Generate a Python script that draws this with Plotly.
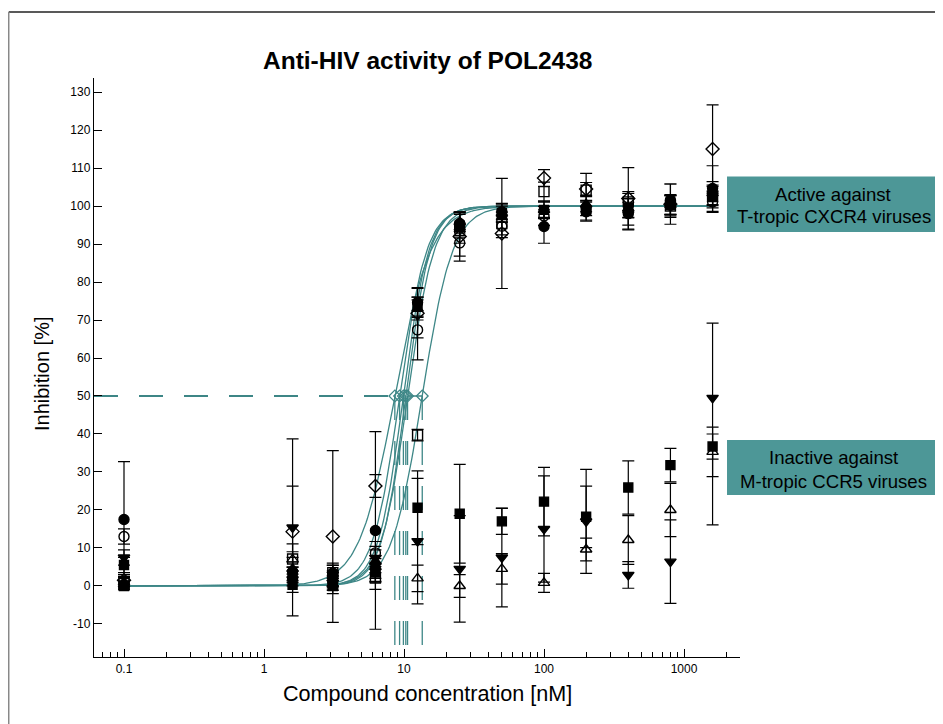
import numpy as np
import plotly.graph_objects as go

# ---------------- data ----------------
conc = [0.1, 1.6, 3.1, 6.25, 12.5, 25, 50, 100, 200, 400, 800, 1600]

# active (T-tropic CXCR4) strains
act_fcircle = [17.5, 3.8, 3.4, 14.6, 74.6, 95.4, 98.5, 94.6, 98.5, 98.0, 101.6, 104.6]
act_fcircle_err = [15.2, 2.5, 2.0, 26.0, 3.9, 3.1, 2.0, 4.4, 2.5, 3.0, 4.2, 6.0]
act_ocircle = [13.0, 2.0, 1.0, 8.7, 67.4, 90.3, 94.7, 97.4, 99.5, 98.5, 100.2, 101.1]
act_ocircle_err = [2.0, 2.0, 1.5, 3.0, 7.9, 3.5, 3.0, 2.5, 2.0, 4.8, 2.5, 2.8]
act_odiamond = [1.5, 14.3, 13.0, 26.3, 71.8, 92.0, 92.8, 107.4, 104.5, 102.0, 100.5, 115.0]
act_odiamond_err = [1.0, 12.0, 22.6, 3.0, 6.5, 6.5, 14.5, 2.2, 1.7, 8.1, 5.3, 11.6]
act_osquare = [0.7, 7.1, 3.5, 2.1, 39.7, 94.2, 95.4, 103.8, 104.2, 101.1, 100.0, 102.5]
act_osquare_err = [1.5, 4.0, 2.0, 3.0, 1.5, 4.0, 3.0, 2.5, 4.4, 2.7, 3.0, 3.0]
act_ftri = [1.0, 4.5, 2.0, 6.5, 73.0, 95.8, 98.0, 99.0, 100.5, 99.4, 100.3, 103.4]
act_ftri_err = [2.0, 3.0, 2.0, 3.0, 3.0, 2.5, 2.0, 2.3, 2.0, 2.5, 2.5, 3.0]
act_fsquare = [5.5, 0.3, 0.8, 3.5, 73.5, 94.8, 98.2, 99.0, 98.8, 99.5, 100.3, 102.6]
act_fsquare_err = [2.0, 2.0, 2.0, 2.5, 2.5, 3.0, 2.5, 2.0, 2.5, 2.5, 2.5, 2.5]

# inactive (M-tropic CCR5) strains
inact_fsquare = [0.0, 2.9, 0.0, 4.2, 20.6, 19.0, 17.0, 22.2, 18.2, 25.9, 31.8, 36.7]
inact_fsquare_err = [1.0, 2.0, 2.0, 3.0, 9.7, 13.0, 3.4, 9.0, 8.1, 7.0, 4.4, 3.3]
inact_ftridown = [7.5, 15.4, 3.0, 7.4, 11.8, 4.5, 7.5, 15.0, 17.0, 2.9, 6.4, 49.5]
inact_ftridown_err_plus = [2.0, 23.3, 3.0, 3.0, 16.5, 14.0, 13.0, 14.0, 13.7, 3.5, 11.0, 19.7]
inact_ftridown_err_minus = [2.0, 23.3, 3.0, 3.0, 16.5, 14.0, 13.0, 14.0, 13.7, 3.5, 11.0, 33.4]
inact_otri = [0.5, 7.0, 0.5, 5.0, 2.0, 0.0, 4.5, 0.8, 9.6, 12.1, 20.0, 35.3]
inact_otri_err = [1.0, 2.0, 1.5, 3.0, 3.5, 3.0, 4.0, 2.5, 3.0, 6.4, 7.0, 6.5]

# fitted sigmoid parameters of the active strains
ic50_values = [8.6, 9.3, 9.9, 10.3, 10.6, 13.5]
hill_slopes = [3.4, 4.5, 4.8, 5.0, 4.6, 4.0]

y_tickvals = [-10, 0, 10, 20, 30, 40, 50, 60, 70, 80, 90, 100, 110, 120, 130]
y_ticktext = ["-10", "0", "10", "20", "30", "40", "50", "60", "70", "80", "90", "100", "110", "120", "130"]
x_tickvals = [0.1, 1, 10, 100, 1000]
x_ticktext = ["0.1", "1", "10", "100", "1000"]
x_minorvals = [0.07, 0.08, 0.09, 0.2, 0.3, 0.4, 0.5, 0.6, 0.7, 0.8, 0.9,
               2, 3, 4, 5, 6, 7, 8, 9, 20, 30, 40, 50, 60, 70, 80, 90,
               200, 300, 400, 500, 600, 700, 800, 900, 2000]

# ---------------- figure ----------------
TEAL = "#3e8787"
BOX = "#4d9797"
FONT = "Liberation Sans, Arial, sans-serif"
XMIN_LOG, XMAX_LOG = -1.2143, 3.4
YMIN, YMAX = -18.7, 133.7

fig = go.Figure()

# fitted curves
xc = np.logspace(np.log10(conc[0]), np.log10(conc[-1]), 400)
for ic, h in zip(ic50_values, hill_slopes):
    yc = 100.0 / (1.0 + (ic / xc) ** h)
    fig.add_trace(go.Scatter(x=xc, y=yc, mode="lines",
                             line=dict(color=TEAL, width=1.3),
                             hoverinfo="skip", showlegend=False))

# 50% dashed guide lines and IC50 markers
x_axis_start = 10 ** XMIN_LOG
for ic in ic50_values:
    fig.add_trace(go.Scatter(x=[x_axis_start, ic], y=[50, 50], mode="lines",
                             line=dict(color=TEAL, width=1.3, dash="24px,21px"),
                             hoverinfo="skip", showlegend=False))
    fig.add_trace(go.Scatter(x=[ic, ic], y=[50, YMIN], mode="lines",
                             line=dict(color=TEAL, width=1.3, dash="24px,21px"),
                             hoverinfo="skip", showlegend=False))
fig.add_trace(go.Scatter(x=ic50_values, y=[50] * len(ic50_values), mode="markers",
                         marker=dict(symbol="diamond-open", size=9,
                                     color=TEAL, line=dict(width=1.3, color=TEAL)),
                         showlegend=False))


def data_trace(y, err, symbol, size=9, err_minus=None):
    ed = dict(type="data", array=err, visible=True, color="black",
              thickness=1.2, width=6)
    if err_minus is not None:
        ed["symmetric"] = False
        ed["arrayminus"] = err_minus
    return go.Scatter(x=conc, y=y, mode="markers",
                      marker=dict(symbol=symbol, size=size, color="black",
                                  line=dict(width=1.4, color="black")),
                      error_y=ed, showlegend=False)


fig.add_trace(data_trace(inact_fsquare, inact_fsquare_err, "square", 9))
fig.add_trace(data_trace(inact_ftridown, inact_ftridown_err_plus, "triangle-down", 10,
                         err_minus=inact_ftridown_err_minus))
fig.add_trace(data_trace(inact_otri, inact_otri_err, "triangle-up-open", 10))
fig.add_trace(data_trace(act_fsquare, act_fsquare_err, "square", 9))
fig.add_trace(data_trace(act_ftri, act_ftri_err, "triangle-up", 10))
fig.add_trace(data_trace(act_osquare, act_osquare_err, "square-open", 10))
fig.add_trace(data_trace(act_odiamond, act_odiamond_err, "diamond-open", 10))
fig.add_trace(data_trace(act_ocircle, act_ocircle_err, "circle-open", 10))
fig.add_trace(data_trace(act_fcircle, act_fcircle_err, "circle", 10))

# the page body adds an 8px offset, so the figure is 8px smaller than the window
fig.update_layout(
    width=935, height=716,
    margin=dict(l=86, r=203, t=70, b=67),
    paper_bgcolor="white", plot_bgcolor="white",
    font=dict(family=FONT, color="black", size=12),
    showlegend=False,
    xaxis=dict(type="log", range=[XMIN_LOG, XMAX_LOG],
               showline=True, linecolor="black", linewidth=1.4,
               showgrid=False, zeroline=False, mirror=False,
               tickmode="array", tickvals=x_tickvals, ticktext=x_ticktext,
               ticks="inside", ticklen=8, tickwidth=1.2, tickcolor="black",
               tickfont=dict(size=12, family=FONT),
               minor=dict(tickmode="array", tickvals=x_minorvals, ticks="inside",
                          ticklen=5, tickwidth=1.2, tickcolor="black", showgrid=False)),
    yaxis=dict(range=[YMIN, YMAX],
               showline=True, linecolor="black", linewidth=1.4,
               showgrid=False, zeroline=False, mirror=False,
               tickmode="array", tickvals=y_tickvals, ticktext=y_ticktext,
               ticks="inside", ticklen=8, tickwidth=1.2, tickcolor="black",
               tickfont=dict(size=12, family=FONT)),
)

annotations = [
    dict(text="<b>Anti-HIV activity of POL2438</b>", x=0.5155, y=1.031,
         font=dict(size=24.5)),
    dict(text="Compound concentration [nM]", x=0.5155, y=-0.0639,
         font=dict(size=21.6)),
    dict(text="Inhibition [%]", x=-0.0805, y=0.4905, textangle=-90,
         font=dict(size=20)),
    dict(text="Active against", x=1.1455, y=0.798, font=dict(size=18.6)),
    dict(text="T-tropic CXCR4 viruses", x=1.1455, y=0.7605, font=dict(size=18.6)),
    dict(text="Inactive against", x=1.1455, y=0.3449, font=dict(size=18.6)),
    dict(text="M-tropic CCR5 viruses", x=1.1455, y=0.3028, font=dict(size=18.6)),
]
for a in annotations:
    a.update(xref="paper", yref="paper", showarrow=False,
             xanchor="center", yanchor="middle")
    a["font"].update(family=FONT, color="black")
fig.update_layout(annotations=annotations)

shapes = [
    dict(type="rect", xref="paper", yref="paper", x0=0.9799, x1=1.3142,
         y0=0.734, y1=0.8299, fillcolor=BOX, line=dict(width=0), layer="below"),
    dict(type="rect", xref="paper", yref="paper", x0=0.9799, x1=1.3019,
         y0=0.2798, y1=0.3748, fillcolor=BOX, line=dict(width=0), layer="below"),
    dict(type="line", xref="paper", yref="paper", x0=-0.132, x1=1.3142,
         y0=1.114, y1=1.114, line=dict(color="#222222", width=1.5)),
    dict(type="line", xref="paper", yref="paper", x0=-0.132, x1=-0.132,
         y0=1.114, y1=-0.1157, line=dict(color="#888888", width=1.5)),
]
fig.update_layout(shapes=shapes)

fig.write_html("out.html")
